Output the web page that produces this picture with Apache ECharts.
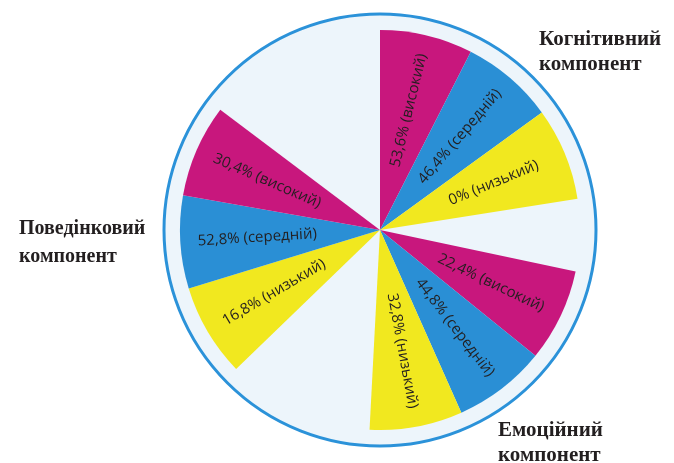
<!DOCTYPE html>
<html>
<head>
<meta charset="utf-8">
<script src="https://cdn.jsdelivr.net/npm/echarts@6/dist/echarts.min.js"></script>
<style>
  html, body { margin: 0; padding: 0; background: #ffffff; }
  #main { width: 674px; height: 463px; }
</style>
</head>
<body>
<div id="main"></div>
<script>
var chart = echarts.init(document.getElementById('main'));

// data
var groups = ['Когнітивний\nкомпонент', 'Емоційний\nкомпонент', 'Поведінковий\nкомпонент'];
var levels = ['високий', 'середній', 'низький'];
var cognitive = [53.6, 46.4, 0];
var emotional = [22.4, 44.8, 32.8];
var behavioral = [30.4, 52.8, 16.8];

var levelColors = ['#c8177d', '#2a8fd5', '#f1e81f'];
var sectorDeg = 27;          // every wedge has the same width
var gapsDeg = [21, 43, 53];  // empty space after each group (clockwise)

function fmt(v, lvl) {
  return String(v).replace('.', ',') + '% (' + lvl + ')';
}

// clockwise from 12 o'clock: cognitive, emotional, then behavioral (reversed order)
var order = [
  { vals: cognitive, idx: [0, 1, 2] },
  { vals: emotional, idx: [0, 1, 2] },
  { vals: behavioral, idx: [2, 1, 0] }
];

var slices = [];
order.forEach(function (g, gi) {
  g.idx.forEach(function (li) {
    slices.push({
      value: sectorDeg,
      name: fmt(g.vals[li], levels[li]),
      itemStyle: { color: levelColors[li] }
    });
  });
  slices.push({ value: gapsDeg[gi], name: 'gap' + gi, itemStyle: { color: 'rgba(0,0,0,0)' }, label: { show: false } });
});

var labelSlices = slices.map(function (s) {
  return { value: s.value, name: s.name, itemStyle: { color: 'rgba(0,0,0,0)' }, label: s.label };
});

var center = [380, 230];
var titleStyle = { fontFamily: 'Liberation Serif', fontWeight: 'bold', fontSize: 21, color: '#231f20', lineHeight: 25 };

var option = {
  animation: false,
  title: [
    { text: groups[0], left: 534, top: 22, textStyle: titleStyle },
    { text: groups[1], left: 493, top: 413, textStyle: titleStyle },
    { text: groups[2], left: 14, top: 210, textStyle: Object.assign({}, titleStyle, { fontSize: 20, lineHeight: 28 }) }
  ],
  series: [
    {
      type: 'pie',
      silent: true,
      center: center,
      radius: 216,
      label: { show: false },
      labelLine: { show: false },
      itemStyle: { color: '#edf5fb', borderColor: '#2b92d9', borderWidth: 3 },
      data: [{ value: 1, name: 'bg' }]
    },
    {
      type: 'pie',
      silent: true,
      center: center,
      radius: 200,
      startAngle: 90,
      clockwise: true,
      avoidLabelOverlap: false,
      label: { show: false },
      labelLine: { show: false },
      itemStyle: { borderWidth: 0 },
      data: slices
    },
    {
      type: 'pie',
      silent: true,
      center: center,
      radius: 240,
      startAngle: 90,
      clockwise: true,
      avoidLabelOverlap: false,
      labelLine: { show: false },
      label: {
        show: true,
        position: 'inside',
        rotate: 'radial',
        fontFamily: 'Open Sans',
        fontSize: 15,
        color: '#231f20',
        formatter: '{b}'
      },
      data: labelSlices
    }
  ]
};

chart.setOption(option);
</script>
</body>
</html>
